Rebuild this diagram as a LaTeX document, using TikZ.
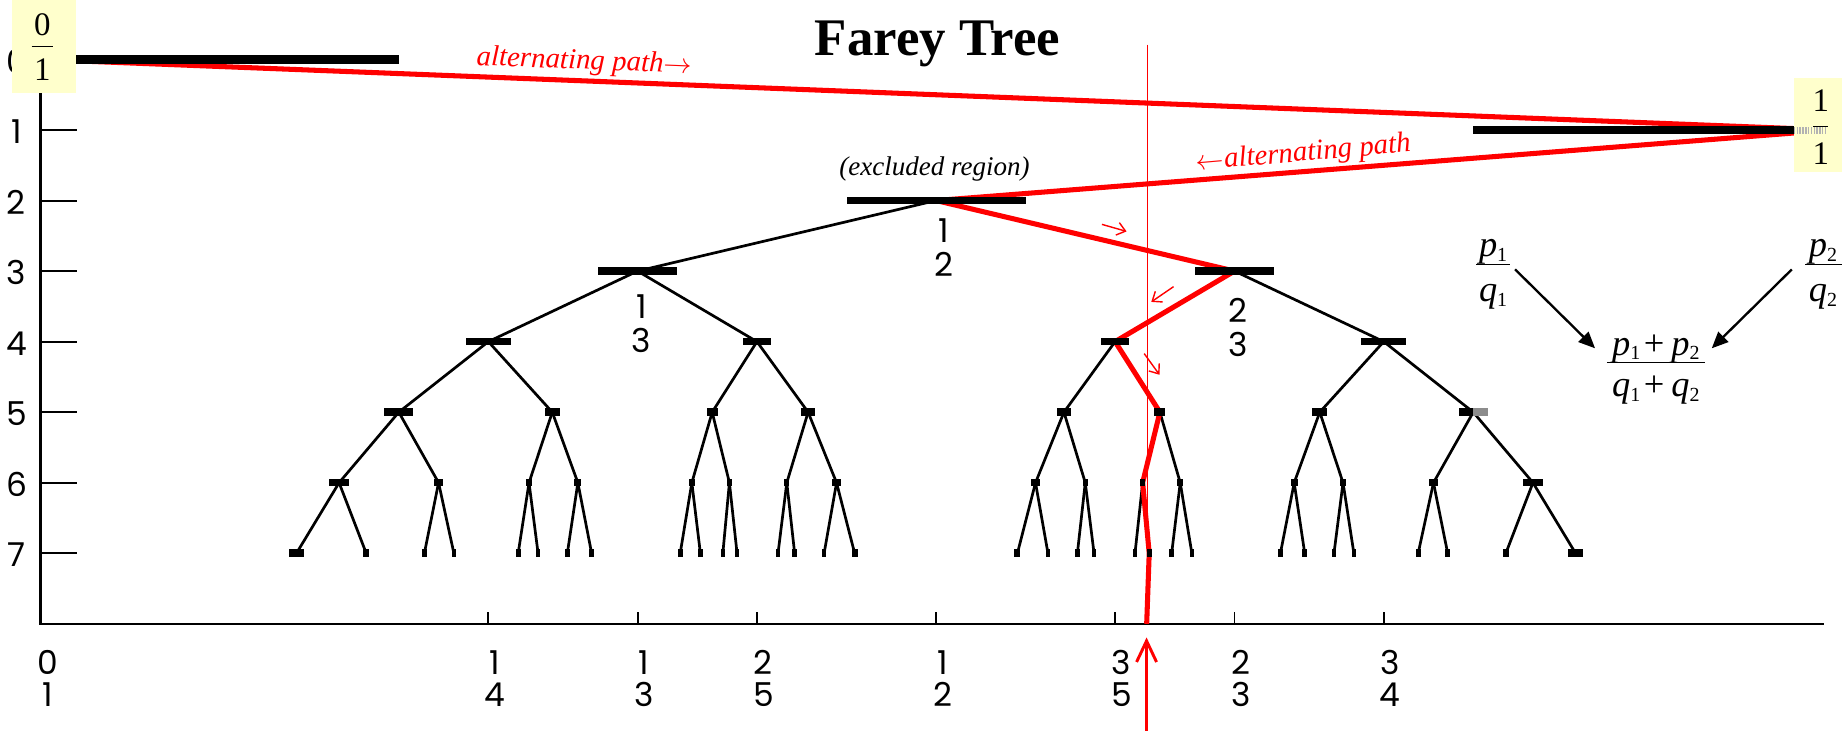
\documentclass[tikz,border=0pt]{standalone}
\usepackage{fontspec}
\setmainfont{Liberation Serif}
\newfontfamily\digitfont{Poppins}
\usetikzlibrary{arrows.meta,calc}
\definecolor{boxyellow}{HTML}{FFFFCC}
\newcommand\mysub[1]{\raisebox{-2.1pt}{\fontsize{8.5}{8.5}\selectfont #1}}
\newcommand\myp[1]{\textit{p}\mysub{#1}}
\newcommand\myq[1]{\textit{q}\mysub{#1}}
\def\treelist{1/3/3/1/2, 2/3/3/1/2,
 1/4/4/1/3, 2/5/4/1/3, 3/5/4/2/3, 3/4/4/2/3,
 1/5/5/1/4, 2/7/5/1/4, 3/8/5/2/5, 3/7/5/2/5, 4/7/5/3/5, 5/8/5/3/5, 5/7/5/3/4, 4/5/5/3/4,
 1/6/6/1/5, 2/9/6/1/5, 3/11/6/2/7, 3/10/6/2/7, 4/11/6/3/8, 5/13/6/3/8, 5/12/6/3/7, 4/9/6/3/7,
 5/9/6/4/7, 7/12/6/4/7, 8/13/6/5/8, 7/11/6/5/8, 7/10/6/5/7, 8/11/6/5/7, 7/9/6/4/5, 5/6/6/4/5,
 1/7/7/1/6, 2/11/7/1/6, 3/14/7/2/9, 3/13/7/2/9, 4/15/7/3/11, 5/18/7/3/11, 5/17/7/3/10, 4/13/7/3/10,
 5/14/7/4/11, 7/19/7/4/11, 8/21/7/5/13, 7/18/7/5/13, 7/17/7/5/12, 8/19/7/5/12, 7/16/7/4/9, 5/11/7/4/9,
 6/11/7/5/9, 9/16/7/5/9, 11/19/7/7/12, 10/17/7/7/12, 11/18/7/8/13, 13/21/7/8/13, 12/19/7/7/11, 9/14/7/7/11,
 9/13/7/7/10, 12/17/7/7/10, 13/18/7/8/11, 11/15/7/8/11, 10/13/7/7/9, 11/14/7/7/9, 9/11/7/5/6, 6/7/7/5/6}
\tikzset{
  edge/.style={line width=1.15pt, black},
  bar/.style={rectangle, fill=black, draw=none, inner sep=0pt, outer sep=0pt, minimum height=3.2pt},
  redpath/.style={red, line width=2.15pt, line join=round},
  thinred/.style={red, line width=0.65pt},
  smallarrow/.style={red, line width=0.6pt, -{Straight Barb[length=3.5pt,width=5.5pt]}},
  axisline/.style={line width=1pt},
  tickline/.style={line width=0.85pt},
  digit/.style={font=\digitfont\fontsize{14}{14}\selectfont, inner sep=0pt},
  lab/.style={font=\itshape\fontsize{11.5}{12}\selectfont, inner sep=0pt},
  serifnum/.style={font=\fontsize{14}{14}\selectfont, inner sep=0pt},
  fml/.style={font=\fontsize{15.5}{15.5}\selectfont, inner sep=0pt, anchor=base},
  frbox/.style={rectangle, fill=boxyellow, draw=none, inner sep=0pt, anchor=north west},
}
\begin{document}
\begin{tikzpicture}[x=0.5pt, y=-0.5pt]
\useasboundingbox (0,0) rectangle (1568,622);

% ---------- axes ----------
\coordinate (Ytop) at (34.6,50.6);
\coordinate (O) at (34.6,531);
\coordinate (Xend) at (1553,531);
\draw[axisline] (Ytop) -- (O) -- (Xend);
\foreach \k in {1,...,7} {
  \draw[tickline] (34.6,{50.6+60.05*\k}) -- (65.3,{50.6+60.05*\k});
}
\foreach \k in {0,...,7} {
  \node[digit] (lv\k) at (14,{52.1+60.05*\k}) {\k};
}
\foreach \p/\q in {1/4,1/3,2/5,1/2,3/5,2/3,3/4} {
  \pgfmathsetmacro\xx{34.6+1524.4*(\p/\q)}
  \draw[tickline] (\xx,521) -- (\xx,531);
  \node[digit] (bn\p-\q) at (\xx+5.5,564) {\p};
  \node[digit] (bd\p-\q) at (\xx+5.5,591) {\q};
}
\node[digit] (bn0-1) at (40.6,564) {0};
\node[digit] (bd0-1) at (40.6,591) {1};

% ---------- tree coordinates and black edges ----------
\coordinate (n0-1) at (34.6,50.6);
\coordinate (n1-1) at (1559,110.7);
\coordinate (n1-2) at (796.8,170.7);
\coordinate (n21-34) at (976.1,531);
\foreach \p/\q/\l/\pp/\pq in \treelist {
  \pgfmathsetmacro\xx{34.6+1524.4*(\p/\q)}
  \pgfmathsetmacro\yy{50.6+60.05*\l}
  \coordinate (n\p-\q) at (\xx,\yy);
  \draw[edge] (n\pp-\pq) -- (n\p-\q);
}

% ---------- red alternating path ----------
\coordinate (gtop) at (976.7,38);
\coordinate (gbot) at (976.7,531);
\draw[thinred] (gtop) -- (gbot);
\draw[redpath] (n0-1) -- (n1-1) -- (n1-2) -- (n2-3) -- (n3-5) -- (n5-8) -- (n8-13) -- (n13-21) -- (n21-34);

% ---------- bars ----------
\node[bar, minimum width=152.44pt, minimum height=3.5pt, anchor=west] (b0-1) at (n0-1) {};
\node[bar, minimum width=152.44pt, anchor=east] (b1-1) at (n1-1) {};
\node[bar, minimum width=76.22pt] (b1-2) at (n1-2) {};
\foreach \p/\q/\l/\pp/\pq in \treelist {
  \pgfmathsetmacro\hw{max(2,304.88/(\q*\q))}
  \node[bar, minimum width=\hw pt] (b\p-\q) at (n\p-\q) {};
}
\fill[black!45] (b4-5.north) rectangle (b4-5.south east);

% ---------- endpoint boxes ----------
\node[frbox, minimum width=27.25pt, minimum height=39.5pt] (box0) at (9.4,0) {};
\node[serifnum] (box0n) at (36,21) {0};
\node[serifnum] (box0d) at (36,59.6) {1};
\draw[line width=0.7pt] (27,39.7) -- (45,39.7);

\node[frbox, minimum width=22pt, minimum height=40pt] (box1) at (1526.6,66) {};
\draw[black!30, line width=3pt, dash pattern=on 0.6pt off 0.6pt] (1527,110.9) -- (1554,110.9);
\node[serifnum] (box1n) at (1550,86) {1};
\node[serifnum] (box1d) at (1550,130.5) {1};
\draw[line width=0.7pt] (1543.7,107.8) -- (1556.4,107.8);

% ---------- texts ----------
\node[font=\bfseries\fontsize{22.5}{24}\selectfont, anchor=base, inner sep=0pt] (title) at (798,47) {Farey Tree};
\node[lab, font=\itshape\fontsize{12.3}{13}\selectfont, anchor=base, red, rotate=-2.25] (alt1) at (497,59) {alternating path$\rightarrow$};
\node[lab, font=\itshape\fontsize{12.3}{13}\selectfont, anchor=base, red, rotate=5] (alt2) at (1110,137) {$\leftarrow$alternating path};
\node[lab] (excl) at (795.5,144) {(excluded region)};

\node[digit] (l12n) at (803.5,196) {1};
\node[digit] (l12d) at (803.5,225) {2};
\node[digit] (l13n) at (546,261) {1};
\node[digit] (l13d) at (546,290) {3};
\node[digit] (l23n) at (1054,264) {2};
\node[digit] (l23d) at (1054,293.5) {3};

% ---------- small red arrows ----------
\coordinate (r1s) at (938,191); \coordinate (r1e) at (959,197);
\coordinate (r2s) at (999,244); \coordinate (r2e) at (980,257);
\coordinate (r3s) at (974,301); \coordinate (r3e) at (987,319);
\draw[smallarrow] (r1s) -- (r1e);
\draw[smallarrow] (r2s) -- (r2e);
\draw[smallarrow] (r3s) -- (r3e);
\coordinate (barrs) at (976,630);
\coordinate (barre) at (976,542.6);
\draw[red, line width=1.25pt, -{Straight Barb[length=9pt,width=8.5pt]}] (barrs) -- (barre);

% ---------- mediant formula ----------
\node[fml] (f1n) at (1271,218.5) {\myp{1}};
\node[fml] (f1d) at (1271,256.8) {\myq{1}};
\draw[line width=0.6pt] (1256.5,225) -- (1285.5,225);
\node[fml, anchor=base west] (f2n) at (1539.4,218.5) {\myp{2}};
\node[fml, anchor=base west] (f2d) at (1539.4,256.8) {\myq{2}};
\draw[line width=0.6pt] (1536.6,225) -- (1570,225);
\node[fml] (fsn) at (1409.6,302.2) {\myp{1}\hspace{1.5pt}+\hspace{3pt}\myp{2}};
\node[fml] (fsd) at (1409.6,337.7) {\myq{1}\hspace{1.5pt}+\hspace{3pt}\myq{2}};
\draw[line width=0.6pt] (1367.8,308.4) -- (1451.5,308.4);
\coordinate (a1s) at (1289.7,229.3); \coordinate (a1e) at (1357.8,296.5);
\coordinate (a2s) at (1525.3,229.3); \coordinate (a2e) at (1457.1,296.5);
\draw[line width=1pt, -{Triangle[length=7pt,width=6pt]}] (a1s) -- (a1e);
\draw[line width=1pt, -{Triangle[length=7pt,width=6pt]}] (a2s) -- (a2e);
\end{tikzpicture}
\end{document}
